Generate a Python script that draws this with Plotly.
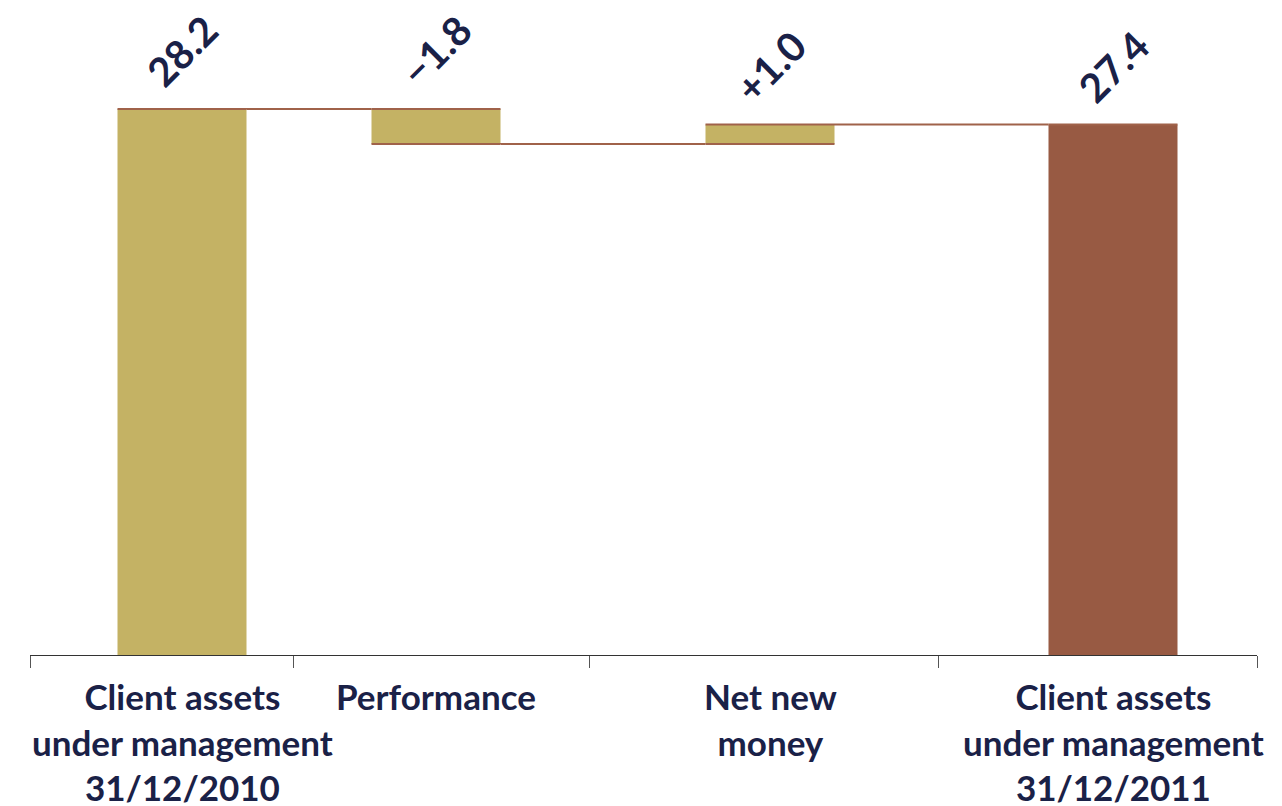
import plotly.graph_objects as go

# data
categories = ["Client assets<br>under management<br>31/12/2010", "Performance",
              "Net new<br>money", "Client assets<br>under management<br>31/12/2011"]
values = [28.2, -1.8, 1.0, 27.4]
# first bar drawn as a rise from zero so it keeps the gold colour
measures = ["relative", "relative", "relative", "total"]
value_labels = ["28.2", "\u22121.8", "+1.0", "27.4"]

# layout helpers (x units ~ 100 px)
x_pos = [1.52, 4.06, 7.40, 10.83]
separators = [0, 2.63, 5.59, 9.08, 12.27]

gold = "#c4b264"
brown = "#985a43"
navy = "#1a2147"
font = "Lato"

fig = go.Figure()

fig.add_trace(go.Waterfall(
    x=x_pos,
    y=values,
    measure=measures,
    width=1.29,
    increasing=dict(marker=dict(color=gold)),
    decreasing=dict(marker=dict(color=gold)),
    totals=dict(marker=dict(color=brown)),
    connector=dict(mode="spanning", line=dict(color="#a0624a", width=2)),
    hoverinfo="skip",
))

# value labels on top of each bar
running = 0
for i, (v, m) in enumerate(zip(values, measures)):
    if m == "relative":
        top = max(running, running + v)
        running += v
    else:
        top = running
    fig.add_annotation(
        x=x_pos[i], y=top, xref="x", yref="y",
        text=value_labels[i], showarrow=False, textangle=-45,
        yanchor="bottom", xanchor="center", yshift=10,
        font=dict(family=font, size=40, color=navy, weight="bold"),
    )

# category labels
for i, c in enumerate(categories):
    fig.add_annotation(
        x=x_pos[i], y=0, xref="x", yref="paper",
        text=c, showarrow=False, yanchor="top", yshift=-18,
        font=dict(family=font, size=35, color=navy, weight="bold"),
    )

fig.update_layout(
    width=1274, height=798,
    margin=dict(l=22, r=25, t=0, b=151, autoexpand=False),
    plot_bgcolor="white", paper_bgcolor="white",
    showlegend=False,
    xaxis=dict(range=[0, 12.27], showgrid=False, zeroline=False,
               showline=True, linecolor="#333333", linewidth=1,
               tickvals=separators, ticktext=[""] * len(separators),
               ticks="outside", ticklen=12, tickcolor="#555555"),
    yaxis=dict(range=[0, 33.42], visible=False),
)

fig.write_html("out.html")
